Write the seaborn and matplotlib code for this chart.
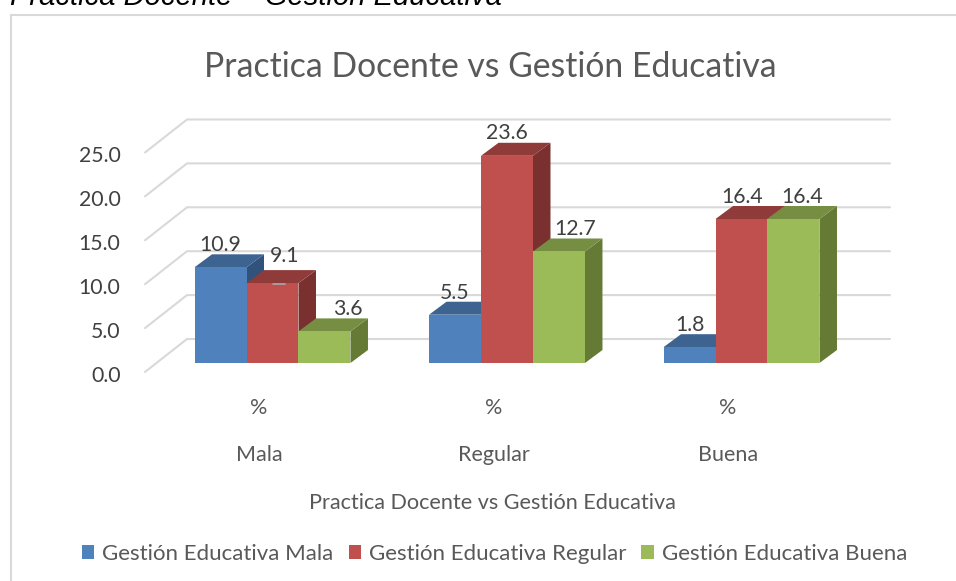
import pandas as pd
import matplotlib
matplotlib.use('Agg')
import matplotlib.pyplot as plt
from matplotlib.patches import Polygon, Rectangle
import seaborn as sns

# datos
categorias = ['Mala', 'Regular', 'Buena']
series = ['Gestión Educativa Mala', 'Gestión Educativa Regular', 'Gestión Educativa Buena']
val_mala = [10.9, 5.5, 1.8]
val_regular = [9.1, 23.6, 16.4]
val_buena = [3.6, 12.7, 16.4]
y_ticks = [0, 5, 10, 15, 20, 25]

colores = ['#4f81bd', '#c0504d', '#9bbb59']
colores_top = ['#3d6391', '#8f3b39', '#758e42']
colores_lado = ['#31527a', '#7a302e', '#647a35']

W, H = 956, 581
sns.set_theme(style='white')
plt.rcParams['font.family'] = ['Lato', 'DejaVu Sans']

df = pd.DataFrame({
    'categoria': categorias * 3,
    'valor': val_mala + val_regular + val_buena,
    'serie': [s for s in series for _ in categorias],
})

fig = plt.figure(figsize=(W / 100, H / 100), dpi=100)
# escala: 234.5 px por categoria, 8.78 px por unidad, base en y=363
px_x, px_y = 234.5, 8.78
ax = fig.add_axes([(272.5 - 0.5 * px_x) / W, (H - 363) / H, 3 * px_x / W, 30 * px_y / H])

sns.barplot(data=df, x='categoria', y='valor', hue='serie', hue_order=series, order=categorias,
            palette=colores, saturation=1, width=0.665, gap=0, linewidth=0, ax=ax)
ax.set_xlim(-0.5, 2.5)
ax.set_ylim(0, 30)
ax.patch.set_visible(False)
sns.despine(ax=ax, left=True, bottom=True, top=True, right=True)
ax.set_xlabel('')
ax.set_ylabel('')


def dx(px):
    return px / px_x


def dy(px):
    return px / px_y


# paredes del fondo
x_front, x_back, x_end = dx(145 - 272.5), dx(187 - 272.5), dx(890 - 272.5)
for t in y_ticks:
    ax.plot([x_front, x_back, x_end], [t + dy(-9), t + dy(24), t + dy(24)], color='#d9d9d9',
            lw=1.5, zorder=0.5, clip_on=False, solid_joinstyle='miter')

# caras 3D de cada barra
prof_x, prof_y = dx(17.5), dy(13)
for i, cont in enumerate(ax.containers):
    z = 2 + i
    for bar in cont:
        x0, w, h = bar.get_x(), bar.get_width(), bar.get_height()
        top = [(x0, h), (x0 + w, h), (x0 + w + prof_x, h + prof_y), (x0 + prof_x, h + prof_y)]
        lado = [(x0 + w, 0), (x0 + w + prof_x, prof_y), (x0 + w + prof_x, h + prof_y), (x0 + w, h)]
        ax.add_patch(Polygon(lado, facecolor=colores_lado[i], edgecolor='none', zorder=z, clip_on=False))
        ax.add_patch(Polygon(top, facecolor=colores_top[i], edgecolor='none', zorder=z, clip_on=False))
        bar.set_zorder(z + 0.5)
        bar.set_clip_on(False)

# etiquetas de datos (desplazamiento en px respecto al centro de la barra)
despl = [[(0, 22), (0, 22), (0, 22)],
         [(12, 27), (0, 23), (1, 22)],
         [(23, 22), (16, 22), (9, 22)]]
for i, cont in enumerate(ax.containers):
    for j, bar in enumerate(cont):
        cx = bar.get_x() + bar.get_width() / 2
        ax.text(cx + dx(despl[i][j][0]), bar.get_height() + dy(despl[i][j][1]), f'{bar.get_height():.1f}',
                ha='center', va='center', fontsize=15.3, color='#404040', zorder=10)
# linea guia de la etiqueta 9.1
bar = ax.containers[1][0]
cx = bar.get_x() + bar.get_width() / 2
ax.plot([cx, cx + dx(12)], [bar.get_height() + dy(-0.5)] * 2, color='#a6a6a6', lw=1.2, zorder=10)

# eje y
ax.set_yticks(y_ticks)
ax.set_yticklabels([f'{t:.1f}' for t in y_ticks])
ax.tick_params(axis='y', length=0, pad=25, labelsize=15.3, labelcolor='#404040')
for t, label in zip(y_ticks, ax.get_yticklabels()):
    label.set_y(t)
    label.set_transform(label.get_transform() + matplotlib.transforms.ScaledTranslation(0, -11 / 100, fig.dpi_scale_trans))

# eje x: dos niveles
ax.set_xticks(range(3))
ax.set_xticklabels([])
ax.tick_params(axis='x', length=0)
off = dx(-13.5)
for i, cat in enumerate(categorias):
    ax.text(i + off, dy(-45), '%', ha='center', va='center', fontsize=15.5, color='#595959', clip_on=False)
    ax.text(i + off, dy(-92), cat, ha='center', va='center', fontsize=15.5, color='#595959', clip_on=False)

fig.text(492 / W, 1 - 503 / H, 'Practica Docente vs Gestión Educativa', ha='center', va='center',
         fontsize=15.6, color='#595959')
fig.text(490 / W, 1 - 67 / H, 'Practica Docente vs Gestión Educativa', ha='center', va='center',
         fontsize=24.3, color='#595959')

# texto cortado arriba y marco
fig.text(10 / W, 1 - 5 / H, 'Practica Docente – Gestión Educativa', ha='left', va='baseline',
         fontsize=21, style='italic', family='Liberation Sans', color='black')
fig.add_artist(Rectangle((11 / W, -0.1), (956 - 11 + 20) / W, 1.1 - 15 / H, transform=fig.transFigure,
                         fill=False, edgecolor='#d9d9d9', lw=1.5))

sns.move_legend(ax, 'center', bbox_to_anchor=(494.5 / W, 1 - 554 / H), bbox_transform=fig.transFigure,
                ncol=3, frameon=False, title=None, fontsize=16, labelcolor='#595959',
                handlelength=0.55, handleheight=0.55, handletextpad=0.36, columnspacing=0.68)

fig.savefig('out.png', dpi=100)
